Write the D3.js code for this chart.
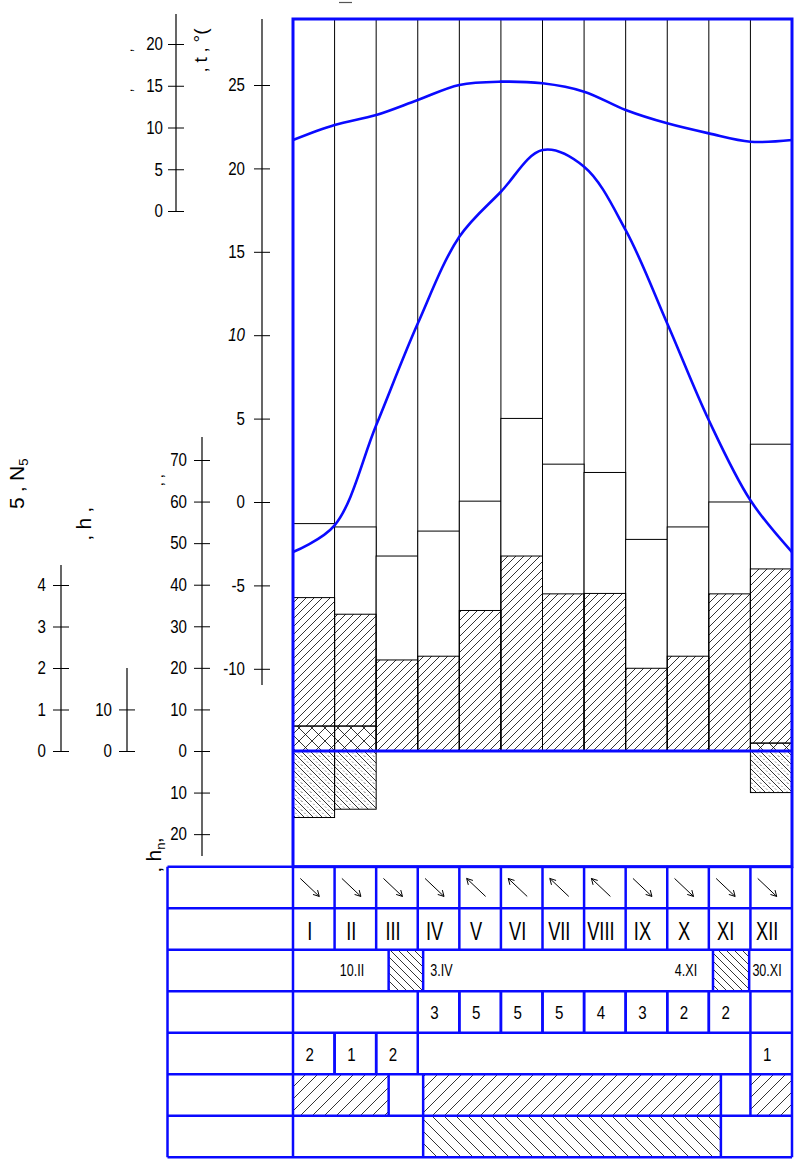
<!DOCTYPE html>
<html>
<head>
<meta charset="utf-8">
<script src="https://cdn.jsdelivr.net/npm/d3@7"></script>
<style>
  body { margin: 0; background: #fff; }
  svg { display: block; }
  .tick text { font-family: "Liberation Sans", Arial, sans-serif; font-size: 18px; fill: #000; }
  .tbl { font-family: "Liberation Sans", Arial, sans-serif; fill: #000; }
  .lbl { font-family: "Liberation Sans", Arial, sans-serif; font-size: 20px; fill: #000; }
</style>
</head>
<body>
<div id="chart"></div>
<script>
var width = 796,
    height = 1160,
    blue = "#0a0aff",
    narrow = 0.84;   // squeeze factor, imitates a narrow face

// month labels (roman)
var months = ["I", "II", "III", "IV", "V", "VI", "VII", "VIII", "IX", "X", "XI", "XII"];

// upper bars (mm), hatched part (mm), mixed part (mm), below-zero bars
var totalBar = [54.7, 53.9, 46.9, 52.9, 60.1, 80.0, 69.0, 67.0, 50.9, 53.9, 59.9, 73.8];
var liquid = [36.9, 32.9, 21.9, 22.8, 33.8, 46.9, 37.8, 37.9, 19.9, 22.8, 37.8, 43.8];
var mixed = [6, 6, 0, 0, 0, 0, 0, 0, 0, 0, 0, 1.9];
var snowDepth = [16, 14, 0, 0, 0, 0, 0, 0, 0, 0, 0, 10];

// temperature curves, values at month boundaries (I.1 ... XII.31)
var tUpper = [21.7, 22.6, 23.2, 24.1, 25.0, 25.2, 25.1, 24.6, 23.5, 22.7, 22.1, 21.6, 21.7];
var tLower = [-3.0, -1.4, 4.6, 10.7, 15.9, 18.6, 21.1, 20.1, 16.3, 10.7, 4.9, 0.1, -3.0];

// tick values
var tempTicks = [-10, -5, 0, 5, 10, 15, 20, 25];
var precTicks = [-20, -10, 0, 10, 20, 30, 40, 50, 60, 70];
var topTicks = [0, 5, 10, 15, 20];
var nTicks = [0, 1, 2, 3, 4];
var smallTicks = [0, 10];

// table rows
var wind = ["SE", "SE", "SE", "SE", "NW", "NW", "NW", "NW", "SE", "SE", "SE", "SE"];
var row4 = [null, null, null, 3, 5, 5, 5, 4, 3, 2, 2, null];
var row5 = [2, 1, 2, null, null, null, null, null, null, null, null, 1];
var dateSpans = [[2.30, 3.13], [10.10, 10.97]];          // in months
var dateLabels = ["10.II", "3.IV", "4.XI", "30.XI"];
var dateAt = [1.42, 3.30, 9.72, 11.40];
var dateAnchor = ["middle", "start", "end", "middle"];
var row6Spans = [[0, 2.30], [3.13, 10.29], [11, 12]];
var row7Spans = [[3.13, 10.29]];

var svg = d3.select("#chart")
    .append("svg")
    .attr("width", width)
    .attr("height", height);

var defs = svg.append("defs");
function hatch(id, size, d) {
    var p = defs.append("pattern")
        .attr("id", id)
        .attr("patternUnits", "userSpaceOnUse")
        .attr("width", size)
        .attr("height", size);
    p.append("path")
        .attr("d", d)
        .attr("stroke", "#000")
        .attr("stroke-width", 0.8)
        .attr("fill", "none");
    return p;
}
function fwd(s) { return "M" + (-s / 4) + "," + (s / 4) + "L" + (s / 4) + "," + (-s / 4) + "M0," + s + "L" + s + ",0M" + (s * 3 / 4) + "," + (s * 5 / 4) + "L" + (s * 5 / 4) + "," + (s * 3 / 4); }
function back(s) { return "M0,0L" + s + "," + s + "M" + (-s / 4) + "," + (s * 3 / 4) + "L" + (s / 4) + "," + (s * 5 / 4) + "M" + (s * 3 / 4) + "," + (-s / 4) + "L" + (s * 5 / 4) + "," + (s / 4); }
hatch("hF", 8, fwd(8));
hatch("hX", 13, fwd(13) + back(13));
var sp = hatch("hS", 9, back(9));
sp.append("path")
    .attr("d", "M-4.5,0L4.5,9M4.5,0L13.5,9")
    .attr("stroke", "#000")
    .attr("stroke-width", 0.7)
    .attr("stroke-dasharray", "1.2,2.8");
hatch("tF", 12, fwd(12));
hatch("tB", 12, back(12));
hatch("tB8", 8, back(8));

// scales
var x = d3.scaleLinear().domain([0, 12]).range([293, 792]);
var yT = d3.scaleLinear().domain([-10, 25]).range([668.8, 85]);
var pk = 291 / 70;
var yP = d3.scaleLinear().domain([-20, 70]).range([751 + 20 * pk, 460]);
var yTop = d3.scaleLinear().domain([0, 20]).range([211, 44]);
var yN = d3.scaleLinear().domain([0, 4]).range([751, 585]);
var yS = d3.scaleLinear().domain([0, 20]).range([751, 751 - 20 * pk]);

var top0 = 19, tableTop = 866.7, rowH = 41.5, tableLeft = 167.5;

// ---- left axes
function axis(scale, ticks, ax, y1, y2, pad, fmt) {
    var g = svg.append("g")
        .attr("transform", "translate(" + ax + ",0)")
        .call(d3.axisLeft(scale).tickValues(ticks).tickSize(8).tickPadding(pad)
            .tickFormat(fmt || function (d) { return String(d); }));
    g.select(".domain").remove();
    g.selectAll(".tick line").attr("x1", -8).attr("x2", 8).attr("stroke", "#000");
    g.selectAll(".tick text").each(function () {
        var t = d3.select(this);
        t.attr("x", +t.attr("x") / narrow).attr("transform", "scale(" + narrow + ",1)");
    });
    g.append("line")
        .attr("y1", y1).attr("y2", y2)
        .attr("stroke", "#000").attr("stroke-width", 1.2);
    return g;
}
var gT = axis(yT, tempTicks, 262, top0, 685, 9);
gT.selectAll(".tick text").style("font-style", function (d) { return d === 10 ? "italic" : null; });
axis(yP, precTicks, 202, 437, 856, 7, function (d) { return String(Math.abs(d)); });
axis(yTop, topTicks, 176, 14, 211, 5);
axis(yN, nTicks, 61, 565, 751, 7);
axis(yS, smallTicks, 127, 668, 751, 7);

// garbled axis captions
function vlabel(txt, tx, ty, size) {
    return svg.append("text")
        .attr("class", "lbl")
        .attr("transform", "translate(" + tx + "," + ty + ")rotate(-90)")
        .style("font-size", size + "px")
        .text(txt);
}
var lN = vlabel("5  ‚ N", 24, 509, 21);
lN.append("tspan").attr("dy", 4).style("font-size", "13px").text("5");
vlabel("‚  h  ‚", 91, 540, 21);
var lh = vlabel("‚ h", 161, 872, 21);
lh.append("tspan").attr("dy", 4).style("font-size", "13px").text("n");
lh.append("tspan").attr("dy", -4).text("‚");
vlabel("‚  t  ‚  °(", 207, 72, 19);
vlabel("‚     ‚", 163, 486, 16);
vlabel("‚", 132, 52, 14);
vlabel("‚", 132, 92, 14);
svg.append("line")
    .attr("x1", 339).attr("x2", 352).attr("y1", 2.5).attr("y2", 2.5)
    .attr("stroke", "#555").attr("stroke-width", 1.2);

// ---- main panel
var panel = svg.append("g");
panel.selectAll("line.month")
    .data(d3.range(1, 12))
    .enter().append("line")
    .attr("class", "month")
    .attr("x1", function (d) { return x(d); })
    .attr("x2", function (d) { return x(d); })
    .attr("y1", top0).attr("y2", yP(0))
    .attr("stroke", "#000").attr("stroke-width", 1);

panel.selectAll("rect.total")
    .data(totalBar)
    .enter().append("rect")
    .attr("class", "total")
    .attr("x", function (d, i) { return x(i); })
    .attr("width", x(1) - x(0))
    .attr("y", function (d) { return yP(d); })
    .attr("height", function (d) { return yP(0) - yP(d); })
    .attr("fill", "#fff").attr("stroke", "#000").attr("stroke-width", 1);

panel.selectAll("rect.liquid")
    .data(liquid)
    .enter().append("rect")
    .attr("class", "liquid")
    .attr("x", function (d, i) { return x(i); })
    .attr("width", x(1) - x(0))
    .attr("y", function (d) { return yP(d); })
    .attr("height", function (d, i) { return yP(mixed[i]) - yP(d); })
    .attr("fill", "url(#hF)").attr("stroke", "#000").attr("stroke-width", 1);

panel.selectAll("rect.mixed")
    .data(mixed.map(function (v, i) { return { v: v, i: i }; }).filter(function (d) { return d.v > 0; }))
    .enter().append("rect")
    .attr("class", "mixed")
    .attr("x", function (d) { return x(d.i); })
    .attr("width", x(1) - x(0))
    .attr("y", function (d) { return yP(d.v); })
    .attr("height", function (d) { return yP(0) - yP(d.v); })
    .attr("fill", "url(#hX)").attr("stroke", "#000").attr("stroke-width", 1);

panel.selectAll("rect.snow")
    .data(snowDepth.map(function (v, i) { return { v: v, i: i }; }).filter(function (d) { return d.v > 0; }))
    .enter().append("rect")
    .attr("class", "snow")
    .attr("x", function (d) { return x(d.i); })
    .attr("width", x(1) - x(0))
    .attr("y", yP(0))
    .attr("height", function (d) { return yP(-d.v) - yP(0); })
    .attr("fill", "url(#hS)").attr("stroke", "#000").attr("stroke-width", 1);

var line = d3.line()
    .x(function (d, i) { return x(i); })
    .y(function (d) { return yT(d); })
    .curve(d3.curveCatmullRom.alpha(0.5));
[tUpper, tLower].forEach(function (s) {
    panel.append("path")
        .datum(s)
        .attr("d", line)
        .attr("fill", "none")
        .attr("stroke", blue)
        .attr("stroke-width", 2.6);
});

panel.append("line")
    .attr("x1", x(0)).attr("x2", x(12))
    .attr("y1", yP(0)).attr("y2", yP(0))
    .attr("stroke", blue).attr("stroke-width", 3);
panel.append("rect")
    .attr("x", x(0)).attr("y", top0)
    .attr("width", x(12) - x(0)).attr("height", tableTop - top0)
    .attr("fill", "none").attr("stroke", blue).attr("stroke-width", 3);

// ---- table
var tbl = svg.append("g");
function rowY(r) { return tableTop + r * rowH; }
function spanRects(spans, r, fill) {
    tbl.selectAll(null)
        .data(spans)
        .enter().append("rect")
        .attr("x", function (d) { return x(d[0]); })
        .attr("width", function (d) { return x(d[1]) - x(d[0]); })
        .attr("y", rowY(r))
        .attr("height", rowH)
        .attr("fill", fill);
}
function vlines(pos, r) {
    tbl.selectAll(null)
        .data(pos)
        .enter().append("line")
        .attr("x1", function (d) { return x(d); })
        .attr("x2", function (d) { return x(d); })
        .attr("y1", rowY(r)).attr("y2", rowY(r + 1))
        .attr("stroke", blue).attr("stroke-width", 2.5);
}
function edges(spans) {
    var e = [];
    spans.forEach(function (s) { e.push(s[0], s[1]); });
    return e.filter(function (v) { return v > 0 && v < 12; });
}
function cellEdges(vals) {
    var e = [];
    vals.forEach(function (v, i) { if (v !== null) { e.push(i, i + 1); } });
    return e.filter(function (v) { return v > 0 && v < 12; });
}

spanRects(dateSpans, 2, "url(#tB8)");
spanRects(row6Spans, 5, "url(#tF)");
spanRects(row7Spans, 6, "url(#tB)");

vlines(d3.range(1, 12), 0);
vlines(d3.range(1, 12), 1);
vlines(edges(dateSpans), 2);
vlines(cellEdges(row4), 3);
vlines(cellEdges(row5), 4);
vlines(edges(row6Spans), 5);
vlines(edges(row7Spans), 6);

tbl.selectAll(null)
    .data(d3.range(0, 8))
    .enter().append("line")
    .attr("x1", tableLeft).attr("x2", x(12))
    .attr("y1", function (d) { return rowY(d); })
    .attr("y2", function (d) { return rowY(d); })
    .attr("stroke", blue).attr("stroke-width", 2.5);
[tableLeft, x(0), x(12)].forEach(function (vx) {
    tbl.append("line")
        .attr("x1", vx).attr("x2", vx)
        .attr("y1", rowY(0)).attr("y2", rowY(7))
        .attr("stroke", blue).attr("stroke-width", 2.5);
});

function cx(i) { return (x(i) + x(i + 1)) / 2 - 4; }

// narrow text placed at (tx, ty)
function ntext(sel, txt, tx, ty, size, anchor, sx) {
    sel.append("text")
        .attr("class", "tbl")
        .attr("transform", "translate(" + tx + "," + ty + ")scale(" + (sx || narrow) + ",1)")
        .attr("text-anchor", anchor || "middle")
        .style("font-size", size + "px")
        .text(txt);
}

// wind arrows
var arrows = tbl.selectAll("g.arrow")
    .data(wind)
    .enter().append("g")
    .attr("class", "arrow")
    .attr("transform", function (d, i) {
        return "translate(" + cx(i) + "," + (rowY(0) + rowH / 2) + ")rotate(" + (d === "SE" ? 0 : 180) + ")";
    });
arrows.append("path")
    .attr("d", "M-9.5,-9L9.5,9M9.5,9L3.2,7M9.5,9L7.8,2.6")
    .attr("fill", "none").attr("stroke", "#000").attr("stroke-width", 1);

months.forEach(function (m, i) {
    ntext(tbl, m, cx(i), rowY(1) + 32, 26, "middle", 0.7);
});

dateLabels.forEach(function (d, i) {
    ntext(tbl, d, x(dateAt[i]), rowY(2) + 26, 17, dateAnchor[i], 0.74);
});

[[row4, 3], [row5, 4]].forEach(function (r) {
    r[0].forEach(function (v, i) {
        if (v !== null) { ntext(tbl, v, cx(i), rowY(r[1]) + 28, 18); }
    });
});
</script>
</body>
</html>
